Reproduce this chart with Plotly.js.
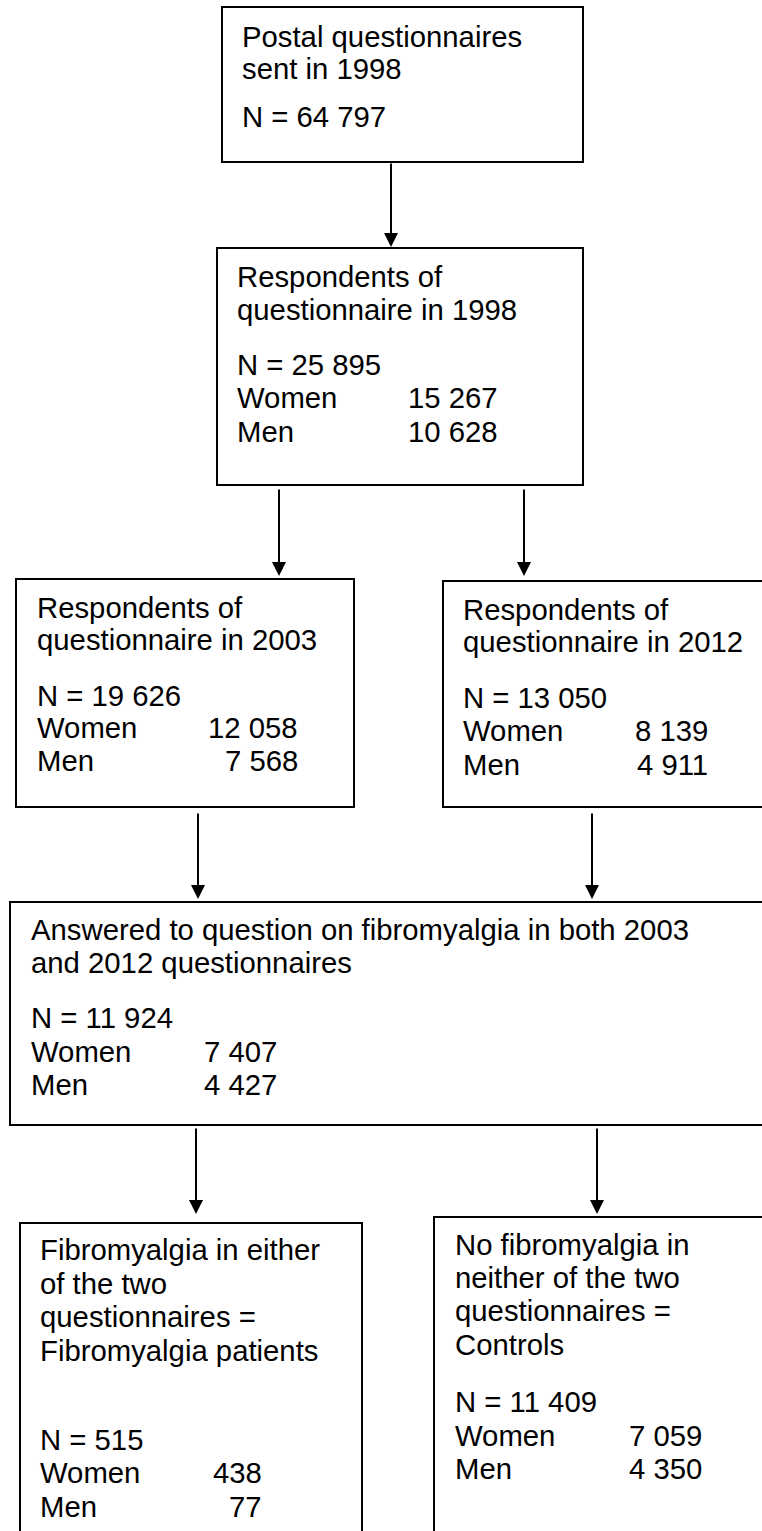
<!DOCTYPE html>
<html>
<head>
<meta charset="utf-8">
<script src="https://cdn.plot.ly/plotly-3.0.1.min.js"></script>
<style>
  html, body { margin: 0; padding: 0; background: #ffffff; }
  #chart { width: 762px; height: 1531px; }
</style>
</head>
<body>
<div id="chart"></div>
<script>
// ---- Flowchart content (data) ----
const boxTitles = [
  ["Postal questionnaires", "sent in 1998"],
  ["Respondents of", "questionnaire in 1998"],
  ["Respondents of", "questionnaire in 2003"],
  ["Respondents of", "questionnaire in 2012"],
  ["Answered to question on fibromyalgia in both 2003", "and 2012 questionnaires"],
  ["Fibromyalgia in either", "of the two", "questionnaires =", "Fibromyalgia patients"],
  ["No fibromyalgia in", "neither of the two", "questionnaires =", "Controls"]
];
const totalN = ["64 797", "25 895", "19 626", "13 050", "11 924", "515", "11 409"];
const womenN = [null, "15 267", "12 058", "8 139", "7 407", "438", "7 059"];
const menN = [null, "10 628", "7 568", "4 911", "4 427", "77", "4 350"];
const groupLabels = ["Women", "Men"];
// flows: [from box, to box]
const flows = [[0, 1], [1, 2], [1, 3], [2, 4], [3, 4], [4, 5], [4, 6]];

// ---- Layout geometry (positions in pixels, not data) ----
const geom = [
  {x0: 222, x1: 583, y0: 7,    y1: 162,  tx: 242, vx: null, title: [47, 79],               n: 127,  w: null, m: null},
  {x0: 217, x1: 583, y0: 248,  y1: 485,  tx: 237, vx: 498,  title: [287, 320],             n: 375,  w: 408,  m: 442},
  {x0: 16,  x1: 354, y0: 579,  y1: 807,  tx: 37,  vx: 298,  title: [618, 650],             n: 706,  w: 738,  m: 771},
  {x0: 443, x1: 770, y0: 581,  y1: 807,  tx: 463, vx: 708,  title: [620, 652],             n: 708,  w: 741,  m: 775},
  {x0: 10,  x1: 770, y0: 902,  y1: 1125, tx: 31,  vx: 277,  title: [940, 973],             n: 1028, w: 1062, m: 1095},
  {x0: 20,  x1: 362, y0: 1223, y1: 1540, tx: 40,  vx: 262,  title: [1260, 1294, 1327, 1361], n: 1450, w: 1483, m: 1517},
  {x0: 434, x1: 770, y0: 1217, y1: 1540, tx: 455, vx: 702,  title: [1255, 1288, 1321, 1355], n: 1412, w: 1446, m: 1479}
];
const arrowGeom = [
  {x: 391, ys: 162,  yt: 247},
  {x: 279, ys: 488,  yt: 576},
  {x: 524, ys: 488,  yt: 576},
  {x: 198, ys: 812,  yt: 899},
  {x: 592, ys: 812,  yt: 899},
  {x: 196, ys: 1127, yt: 1214},
  {x: 597, ys: 1127, yt: 1214}
];

const FONT = {family: "Arial, 'Liberation Sans', sans-serif", size: 29.3, color: "#000000"};
const DESC = 6; // baseline to bottom of text box

const shapes = [];
const annotations = [];

function textAnn(str, x, baseline, anchor) {
  annotations.push({
    xref: "x", yref: "y", x: x, y: baseline + DESC,
    text: str, showarrow: false,
    xanchor: anchor, yanchor: "bottom", align: anchor,
    font: FONT, borderpad: 0, borderwidth: 0
  });
}

geom.forEach(function (g, i) {
  shapes.push({
    type: "rect", xref: "x", yref: "y",
    x0: g.x0, x1: g.x1, y0: g.y0, y1: g.y1,
    line: {color: "#000000", width: 2}, fillcolor: "rgba(0,0,0,0)"
  });
  boxTitles[i].forEach(function (line, k) {
    textAnn(line, g.tx, g.title[k], "left");
  });
  textAnn("N = " + totalN[i], g.tx, g.n, "left");
  if (womenN[i] !== null) {
    textAnn(groupLabels[0], g.tx, g.w, "left");
    textAnn(womenN[i], g.vx, g.w, "right");
    textAnn(groupLabels[1], g.tx, g.m, "left");
    textAnn(menN[i], g.vx, g.m, "right");
  }
});

flows.forEach(function (f, j) {
  const a = arrowGeom[j];
  annotations.push({
    xref: "x", yref: "y", axref: "x", ayref: "y",
    x: a.x, y: a.yt, ax: a.x, ay: a.ys,
    text: "", showarrow: true,
    arrowhead: 2, arrowsize: 1.4, arrowwidth: 2, arrowcolor: "#000000",
    standoff: 0, startstandoff: 0
  });
});

const layout = {
  width: 762, height: 1531,
  margin: {l: 0, r: 0, t: 0, b: 0, pad: 0},
  paper_bgcolor: "#ffffff", plot_bgcolor: "#ffffff",
  showlegend: false,
  xaxis: {range: [0, 762], visible: false, fixedrange: true},
  yaxis: {range: [1531, 0], visible: false, fixedrange: true},
  shapes: shapes,
  annotations: annotations
};

Plotly.newPlot("chart", [], layout, {staticPlot: true, displayModeBar: false});
</script>
</body>
</html>
